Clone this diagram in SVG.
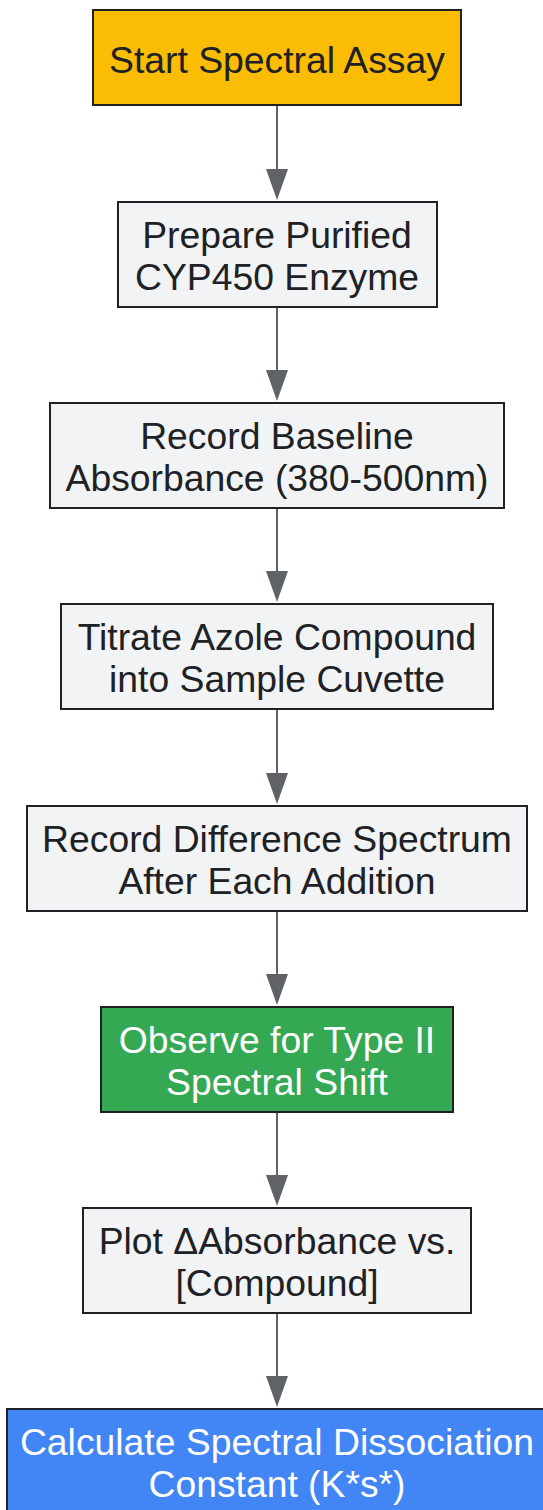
<svg xmlns="http://www.w3.org/2000/svg" width="543" height="1510" viewBox="0 0 543 1510">
<style>
.n{stroke:#202124;stroke-width:2}
.l{fill:#F1F3F4}
.t{font-family:"Liberation Sans",Arial,sans-serif;font-size:37.3px;text-anchor:middle;fill:#202124}
.w{fill:#FFFFFF}
.e{stroke:#5F6368;stroke-width:2;fill:none}
.h{fill:#5F6368}
</style>
<rect width="543" height="1510" fill="#FFFFFF"/>
<g id="connectors">
<line class="e" x1="277" y1="105" x2="277" y2="172"/><polygon class="h" points="266,169 288,169 277,200"/>
<line class="e" x1="277" y1="307" x2="277" y2="373"/><polygon class="h" points="266,370 288,370 277,401"/>
<line class="e" x1="277" y1="508" x2="277" y2="574"/><polygon class="h" points="266,571 288,571 277,602"/>
<line class="e" x1="277" y1="709" x2="277" y2="776"/><polygon class="h" points="266,773 288,773 277,804"/>
<line class="e" x1="277" y1="911" x2="277" y2="977"/><polygon class="h" points="266,974 288,974 277,1005"/>
<line class="e" x1="277" y1="1112" x2="277" y2="1178"/><polygon class="h" points="266,1175 288,1175 277,1206"/>
<line class="e" x1="277" y1="1313" x2="277" y2="1379"/><polygon class="h" points="266,1376 288,1376 277,1407"/>
</g>
<g id="n1"><rect class="n" x="93" y="10" width="368" height="95" fill="#FBBC04"/><text class="t" x="277" y="73">Start Spectral Assay</text></g>
<g id="n2"><rect class="n l" x="118" y="202" width="319" height="105"/><text class="t" x="277" y="248">Prepare Purified</text><text class="t" x="277" y="290">CYP450 Enzyme</text></g>
<g id="n3"><rect class="n l" x="50" y="403" width="454" height="105"/><text class="t" x="277" y="449">Record Baseline</text><text class="t" x="277" y="491">Absorbance (380-500nm)</text></g>
<g id="n4"><rect class="n l" x="61" y="604" width="432" height="105"/><text class="t" x="277" y="650">Titrate Azole Compound</text><text class="t" x="277" y="692">into Sample Cuvette</text></g>
<g id="n5"><rect class="n l" x="27" y="806" width="500" height="105"/><text class="t" x="277" y="852">Record Difference Spectrum</text><text class="t" x="277" y="894">After Each Addition</text></g>
<g id="n6"><rect class="n" x="101" y="1007" width="352" height="105" fill="#34A853"/><text class="t w" x="277" y="1053">Observe for Type II</text><text class="t w" x="277" y="1095">Spectral Shift</text></g>
<g id="n7"><rect class="n l" x="83" y="1208" width="388" height="105"/><text class="t" x="277" y="1254">Plot ΔAbsorbance vs.</text><text class="t" x="277" y="1296">[Compound]</text></g>
<g id="n8"><rect class="n" x="7" y="1409" width="540" height="105" fill="#4285F4"/><text class="t w" x="277" y="1455">Calculate Spectral Dissociation</text><text class="t w" x="277" y="1497">Constant (K*s*)</text></g>
</svg>
